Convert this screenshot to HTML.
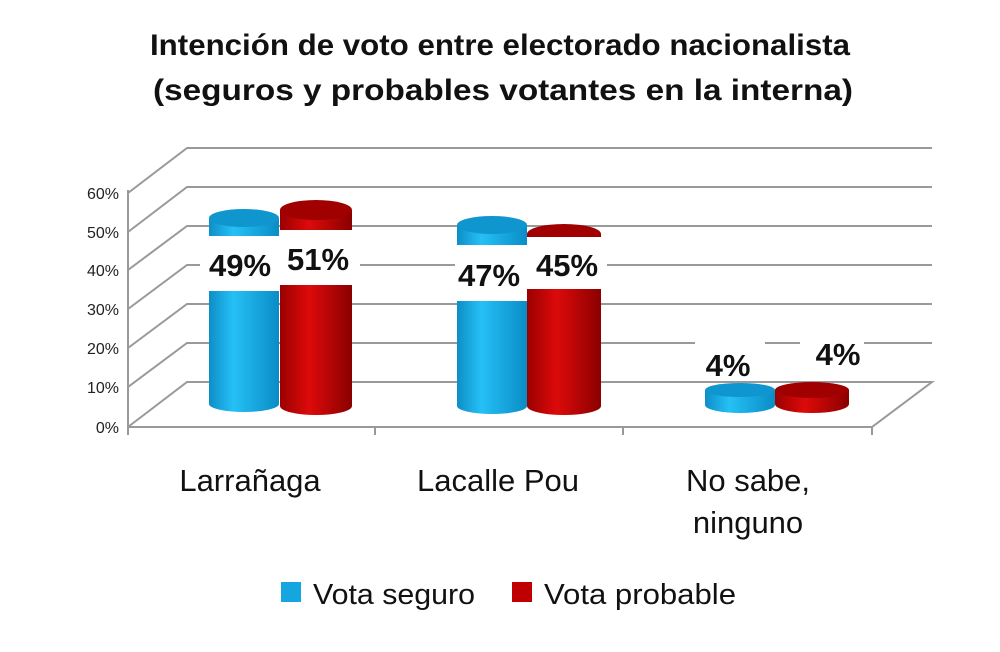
<!DOCTYPE html>
<html><head><meta charset="utf-8"><style>
body{margin:0;background:#fff;}
svg{display:block;}
text{font-family:"Liberation Sans",sans-serif;}
</style></head><body>
<svg width="1000" height="652" viewBox="0 0 1000 652">
<defs>
<linearGradient id="bl" x1="0" x2="1"><stop offset="0" stop-color="#0e8ec8"/><stop offset="0.35" stop-color="#25c0f5"/><stop offset="1" stop-color="#0a8cc6"/></linearGradient>
<linearGradient id="rd" x1="0" x2="1"><stop offset="0" stop-color="#9a0000"/><stop offset="0.4" stop-color="#dd0a0a"/><stop offset="1" stop-color="#8a0000"/></linearGradient>
</defs>
<text x="500" y="55" text-anchor="middle" font-size="30" font-weight="bold" fill="#111" textLength="700" lengthAdjust="spacingAndGlyphs">Intención de voto entre electorado nacionalista</text>
<text x="503" y="100" text-anchor="middle" font-size="30" font-weight="bold" fill="#111" textLength="700" lengthAdjust="spacingAndGlyphs">(seguros y probables votantes en la interna)</text>
<g stroke="#999" stroke-width="2" fill="none">
<polyline points="128,193 187,148 932,148"/>
<polyline points="128,232 187,187 932,187"/>
<polyline points="128,270 187,226 932,226"/>
<polyline points="128,309 187,265 932,265"/>
<polyline points="128,348 187,304 932,304"/>
<polyline points="128,387 187,343 932,343"/>
<polyline points="128,427 187,382 932,382 872,427 128,427"/>
<line x1="128" y1="190" x2="128" y2="430"/>
<line x1="128" y1="427" x2="128" y2="435"/><line x1="375" y1="427" x2="375" y2="435"/><line x1="623" y1="427" x2="623" y2="435"/><line x1="872" y1="427" x2="872" y2="435"/>
</g>
<g font-size="16" fill="#222" text-anchor="end">
<text x="119" y="199">60%</text><text x="119" y="238">50%</text><text x="119" y="276">40%</text><text x="119" y="315">30%</text><text x="119" y="354">20%</text><text x="119" y="393">10%</text><text x="119" y="433">0%</text>
</g>
<g>
<path d="M209,218 V404 A35,8 0 0 0 279,404 V218 Z" fill="url(#bl)"/><ellipse cx="244" cy="218" rx="35" ry="9" fill="#1096cf"/>
<path d="M280,210 V406 A36,9 0 0 0 352,406 V210 Z" fill="url(#rd)"/><ellipse cx="316" cy="210" rx="36" ry="10" fill="#a00000"/>
<path d="M457,225 V406 A35,8 0 0 0 527,406 V225 Z" fill="url(#bl)"/><ellipse cx="492" cy="225" rx="35" ry="9" fill="#1096cf"/>
<path d="M527,234 V406 A37,9 0 0 0 601,406 V234 Z" fill="url(#rd)"/><ellipse cx="564" cy="234" rx="37" ry="10" fill="#a00000"/>
<path d="M705,390 V405 A35,8 0 0 0 775,405 V390 Z" fill="url(#bl)"/><ellipse cx="740" cy="390" rx="35" ry="7" fill="#1096cf"/>
<path d="M775,390 V404 A37,9 0 0 0 849,404 V390 Z" fill="url(#rd)"/><ellipse cx="812" cy="390" rx="37" ry="8" fill="#a00000"/>
</g>
<g fill="#fff">
<rect x="200" y="236" width="80" height="55"/><rect x="280" y="230" width="80" height="55"/>
<rect x="455" y="245" width="72" height="56"/><rect x="527" y="237" width="80" height="52"/>
<rect x="695" y="340" width="70" height="40"/><rect x="800" y="338" width="64" height="35"/>
</g>
<g font-size="31" font-weight="bold" fill="#111" text-anchor="middle">
<text x="240" y="276">49%</text><text x="318" y="270">51%</text>
<text x="489" y="286">47%</text><text x="567" y="276">45%</text>
<text x="728" y="376">4%</text><text x="838" y="365">4%</text>
</g>
<g font-size="31" fill="#111" text-anchor="middle">
<text x="250" y="491">Larrañaga</text>
<text x="498" y="491">Lacalle Pou</text>
<text x="748" y="491">No sabe,</text>
<text x="748" y="533">ninguno</text>
</g>
<rect x="281" y="582" width="20" height="20" fill="#15a6e0"/>
<text x="313" y="604" font-size="29" fill="#111" textLength="162" lengthAdjust="spacingAndGlyphs">Vota seguro</text>
<rect x="512" y="582" width="20" height="20" fill="#c00000"/>
<text x="544" y="604" font-size="29" fill="#111" textLength="192" lengthAdjust="spacingAndGlyphs">Vota probable</text>
</svg>
</body></html>
